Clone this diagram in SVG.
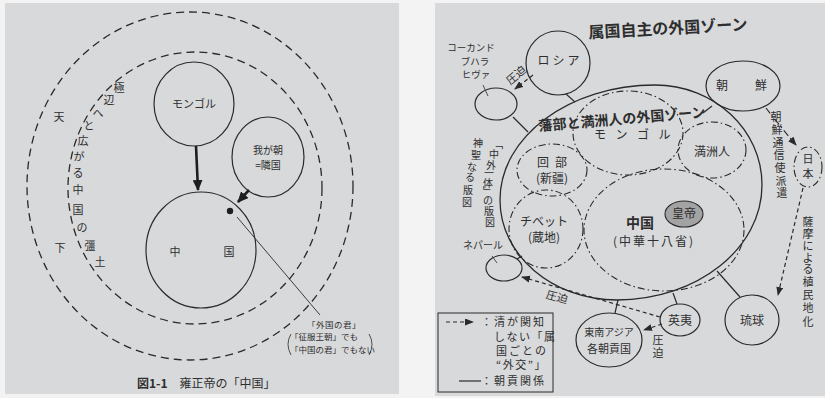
<svg xmlns="http://www.w3.org/2000/svg" width="825" height="398" viewBox="0 0 825 398">
<style>
.pg{fill:#d8d9db}
.s{fill:none;stroke:#2a2a2a;stroke-width:1.2}
.th{fill:none;stroke:#1e1e1e;stroke-width:2.6}
.dl{fill:none;stroke:#2a2a2a;stroke-width:1.3;stroke-dasharray:8 5}
.dd{fill:none;stroke:#2a2a2a;stroke-width:1.1;stroke-dasharray:7 3 1.5 3}
.ds{fill:none;stroke:#2a2a2a;stroke-width:1.2;stroke-dasharray:4 3}
text{font-family:"Noto Sans CJK JP","Noto Sans",sans-serif;fill:#2e2e2e}
.c{text-anchor:middle}
.f8{font-size:8.5px}.f9{font-size:9.5px}.f10{font-size:10px}.f11{font-size:11px}.f12{font-size:12px}.f14{font-size:14px}.f16{font-size:16px}
.b{font-weight:bold}
</style>
<defs>
<marker id="ah" markerUnits="userSpaceOnUse" markerWidth="12" markerHeight="10" refX="10" refY="5" orient="auto"><path d="M0,0 L11,5 L0,10 z" fill="#1e1e1e"/></marker>
<marker id="as" markerUnits="userSpaceOnUse" markerWidth="10" markerHeight="8" refX="8" refY="3.5" orient="auto"><path d="M0,0 L9,3.5 L0,7 z" fill="#2a2a2a"/></marker>
</defs>
<rect width="825" height="398" fill="#f3f3f3"/>
<rect class="pg" x="5" y="3" width="394" height="391"/>
<rect class="pg" x="435" y="3" width="390" height="393"/>

<!-- LEFT DIAGRAM -->
<g id="outer-zone"><ellipse class="dl" cx="190" cy="186" rx="163" ry="174"/>
<text class="f11 c" x="59" y="121">天</text><text class="f11 c" x="60" y="252">下</text></g>
<g id="inner-zone"><ellipse class="dl" cx="195" cy="188" rx="127" ry="136"/>
<text class="f11 c" x="119 109 98 89 83 79 78 78 78 82 90 100" y="92 104 117 130 145 161 177 194 214 232 250 266">極辺へと広がる中国の彊土</text></g>
<g id="mongol-l"><ellipse class="s" cx="194" cy="104" rx="40" ry="42"/><text class="f11 c" x="194" y="108">モンゴル</text></g>
<g id="wagacho"><ellipse class="s" cx="268" cy="157" rx="36" ry="40"/><text class="f10 c" x="268" y="154">我が朝</text><text class="f10 c" x="268" y="169">=隣国</text></g>
<g id="chugoku-l"><ellipse class="s" cx="201" cy="250" rx="55" ry="58"/><text class="f11 c" x="175" y="256">中</text><text class="f11 c" x="229" y="256">国</text>
<circle cx="230" cy="211" r="3.2" fill="#1e1e1e"/></g>
<g id="connectors-left">
<path class="th" d="M196,146 L198,190" marker-end="url(#ah)"/>
<path class="th" d="M249,190 L238,202" marker-end="url(#ah)"/>
<path class="s" style="stroke-width:0.9" d="M237,217 L320,315"/>
</g>
<g id="gaikoku-label">
<text class="f8" x="307" y="328" style="letter-spacing:0.5px">「外国の君」</text>
<text class="f8" x="290" y="340">「征服王朝」でも</text>
<text class="f8" x="290" y="352.5">「中国の君」でもない</text>
<path class="s" style="stroke-width:0.8" d="M291,334 Q285,344 291,355 M369,334 Q375,344 369,355"/>
</g>
<text class="f12" x="137" y="388"><tspan class="b">図1-1</tspan>　雍正帝の「中国」</text>

<!-- RIGHT DIAGRAM -->
<text class="f16 b c" x="668" y="34" transform="rotate(-3 668 30)">属国自主の外国ゾーン</text>
<g id="big-zone"><path class="s" style="stroke-width:1.3" d="M500,200 C500,136.5 569.4,85 655,85 C714.1,85 762,129.8 762,185 C762,248.5 697.1,300 617,300 C552.4,300 500,255.2 500,200 Z"/></g>
<g id="mongol-r"><ellipse class="dd" cx="628" cy="133" rx="55" ry="42"/><text class="f12 c" x="637" y="139" style="letter-spacing:9.5px">モンゴル</text></g>
<text class="f14 b c" x="622" y="124" transform="rotate(-4.8 622 119)">藩部と満洲人の外国ゾーン</text>
<g id="manshu"><ellipse class="dd" cx="712" cy="150" rx="34" ry="28"/><text class="f12 c" x="712" y="156">満洲人</text></g>
<g id="kaibu"><ellipse class="dd" cx="552" cy="170" rx="35" ry="26"/><text class="f12 c" x="555" y="167" style="letter-spacing:6px">回部</text><text class="f12 c" x="552" y="183">(新疆)</text></g>
<g id="tibet"><ellipse class="dd" cx="546" cy="229" rx="37" ry="39"/><text class="f12 c" x="544" y="226">チベット</text><text class="f12 c" x="544" y="242">(蔵地)</text></g>
<g id="chugoku-r"><ellipse class="dd" cx="664" cy="230" rx="80" ry="61"/><text class="f14 b c" x="640" y="228">中国</text><text class="f12 c" x="654" y="246" style="letter-spacing:2px">(中華十八省)</text></g>
<g id="kotei"><ellipse cx="684" cy="214" rx="19" ry="13" fill="#a3a3a3" stroke="#2a2a2a" stroke-width="1.1"/><text class="f12 c" x="684" y="218">皇帝</text></g>
<g id="russia"><ellipse class="s" cx="558" cy="63" rx="32" ry="32"/><text class="f12 c" x="560" y="65" style="letter-spacing:3px">ロシア</text></g>
<g id="kokand"><ellipse class="s" cx="496" cy="104" rx="21" ry="16"/>
<text class="f9 c" x="471" y="51">コーカンド</text><text class="f9 c" x="475" y="64.5">ブハラ</text><text class="f9 c" x="476" y="78">ヒヴァ</text>
<path class="s" style="stroke-width:0.8" d="M483,85 L488,96"/></g>
<g id="chosen"><ellipse class="s" cx="743" cy="86" rx="37" ry="25"/><text class="f12 c" x="722" y="90">朝</text><text class="f12 c" x="761" y="90">鮮</text></g>
<g id="nihon"><ellipse class="dd" cx="808" cy="167" rx="14" ry="20"/><text class="f11 c" x="808 808" y="163 178">日本</text></g>
<g id="ryukyu"><ellipse class="s" cx="752" cy="320" rx="27" ry="25"/><text class="f12 c" x="752" y="325">琉球</text></g>
<g id="nepal"><ellipse class="s" cx="504" cy="268" rx="18" ry="13"/><text class="f10 c" x="483" y="249">ネパール</text>
<path class="s" style="stroke-width:0.8" d="M492,256 L497,263"/></g>
<g id="eii"><ellipse class="s" cx="680" cy="320" rx="20" ry="16"/><text class="f12 c" x="680" y="325">英夷</text></g>
<g id="sea"><ellipse class="s" cx="609" cy="340" rx="33" ry="27"/><text class="f10 c" x="609" y="336">東南アジア</text><text class="f11 c" x="609" y="353">各朝貢国</text></g>

<g id="connectors-right">
<path class="s" d="M566,94 L575,102"/>
<path class="s" d="M513,117 L528,132"/>
<path class="s" d="M712,106 L703,113"/>
<path class="s" d="M517,259 L522,256"/>
<path class="s" d="M618,300 L615,313"/>
<path class="s" d="M673,293 L677,304"/>
<path class="s" d="M717,271 L740,297"/>
<path class="ds" d="M533,75 L515,89" marker-end="url(#as)"/>
<path class="ds" d="M660,317 L522,277" marker-end="url(#as)"/>
<path class="ds" d="M662,324 L644,330" marker-end="url(#as)"/>
<path class="dd" d="M766,108 Q780,126 796,145" marker-end="url(#as)"/>
<path class="ds" d="M803,188 L778,295" marker-end="url(#as)"/>
</g>
<text class="f11 c" x="516" y="79" transform="rotate(-40 516 75)">圧迫</text>
<text class="f11 c" x="557" y="301" transform="rotate(15 557 297)">圧迫</text>
<text class="f11 c" x="658 658" y="344 357">圧迫</text>
<text class="f11 c" x="776 777 778 779 780 781 782" y="121 134 147 159 172 185 197">朝鮮通信使派遣</text>
<text class="f11 c" x="808 808 808 808 808 808 808 808 808" y="226 238 250 262 273 286 299 312 326">薩摩による植民地化</text>
<text class="f10 c" x="498 494 491 489 488 488 488 489 490" y="148 158 169 177 187 195 204 215 226">﹁中外一体﹂の版図</text>
<text class="f10 c" x="478 476 472 470 468 467" y="147 159 171 181 194 206">神聖なる版図</text>

<g id="legend">
<rect x="438" y="313" width="115" height="79" fill="none" stroke="#2a2a2a" stroke-width="1"/>
<path class="ds" d="M446,322 L473,322" marker-end="url(#as)"/>
<text class="f11" x="481" y="326" style="letter-spacing:2px">：清が関知</text>
<text class="f11" x="494" y="340.5" style="letter-spacing:1.5px">しない「属</text>
<text class="f11" x="496" y="355" style="letter-spacing:2px">国ごとの</text>
<text class="f11" x="496" y="369" style="letter-spacing:1.5px">“外交”」</text>
<path class="s" d="M459,381 L481,381"/>
<text class="f11" x="481" y="385" style="letter-spacing:2px">：朝貢関係</text>
</g>
</svg>
